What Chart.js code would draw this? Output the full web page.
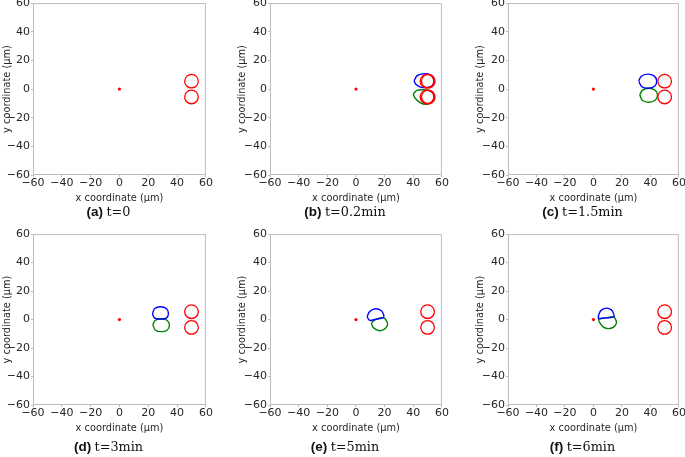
<!DOCTYPE html>
<html>
<head>
<meta charset="utf-8">
<script src="https://cdn.jsdelivr.net/npm/chart.js@4"></script>
<style>
  html, body { margin: 0; padding: 0; background: #fff; overflow: hidden; }
  body { width: 685px; height: 457px; position: relative; }
  canvas { position: absolute; }
  .cap { position: absolute; width: 200px; text-align: center; font-size: 13.5px; color: #111; white-space: nowrap; }
  .cap b { font-family: "Liberation Sans", Arial, sans-serif; font-weight: bold; }
  .cap span { font-family: "DejaVu Serif", "Liberation Serif", serif; font-size: 12.8px; }
</style>
</head>
<body>
<script>
// panel captions
const panelTags = ['(a)', '(b)', '(c)', '(d)', '(e)', '(f)'];
const panelTimes = ['t=0', 't=0.2min', 't=1.5min', 't=3min', 't=5min', 't=6min'];

// axis ticks (both axes)
const tickValues = [-60, -40, -20, 0, 20, 40, 60];

// chemoattractant source
const target = [[0, 0]];

// red cells (centres), per panel
const redA = [[50, 5.5], [50, -5.5]];
const redB = [[49.6, 5.5], [50.5, 5.5], [49.6, -5.5], [50.5, -5.5]];
const redC = [[50, 5.5], [50, -5.5]];
const redD = [[50, 5.5], [50, -5.5]];
const redE = [[50, 5.5], [50, -5.5]];
const redF = [[50, 5.5], [50, -5.5]];

// blue cell outline, per panel
const blueB = [[40.6, 5.8], [42.6, 9.2], [46.5, 10.6], [51, 10.4], [53.8, 8], [54.4, 5], [53, 2], [49, 1], [45, 1.4], [41.8, 3.4], [40.6, 5.8]];
const blueC = [[31.8, 5.5], [33.6, 8.9], [38, 10.4], [42.5, 9.2], [44.4, 5.8], [43, 2], [38.5, 0.6], [34, 1.6], [31.8, 5.5]];
const blueD = [[22.9, 4], [24.5, 7.8], [28.5, 9], [32.5, 7.8], [34, 4.5], [32.5, 1], [28.5, 0.4], [24.5, 1], [22.9, 4]];
const blueE = [[7.8, 2], [9.6, 5.6], [13.6, 7.6], [17.6, 6.4], [19.4, 3.2], [19, 1.4], [14, 0.3], [9.6, -0.6], [7.8, 2]];
const blueF = [[3.4, 0.6], [3.8, 3.8], [5.8, 6.8], [9.2, 8], [12.6, 6.8], [14.2, 4], [14.3, 1.8], [9, 1.2], [3.4, 0.6]];

// green cell outline, per panel
const greenB = [[40, -3.6], [42.5, -1], [47, -0.5], [51, -1], [54, -3], [54.5, -6.5], [52.5, -9.5], [49, -10.6], [45, -9.6], [41.5, -6.6], [40, -3.6]];
const greenC = [[32.5, -4], [34.3, -0.9], [38.8, 0.6], [43.3, -0.8], [45, -4.3], [43.3, -7.8], [38.8, -9.2], [34.3, -7.8], [32.5, -4]];
const greenD = [[23.1, -3.5], [25, -0.5], [29, 0.4], [33, -0.5], [34.7, -4], [33, -7.5], [29, -8.5], [25, -7.5], [23.1, -3.5]];
const greenE = [[10.8, -2.4], [11.8, -5.2], [14.5, -7.3], [17.5, -7.8], [20.8, -6], [22.1, -3], [20.5, 0.4], [18.8, 1.3], [14, 0.2], [10.8, -2.4]];
const greenF = [[3.4, 0.4], [4.5, -2.4], [7.3, -5.5], [10.4, -6.4], [13.9, -5.5], [16.2, -2.4], [15.3, 0.6], [13.9, 1.9], [9, 1.2], [3.4, 0.4]];

const redCells = [redA, redB, redC, redD, redE, redF];
const blueCells = [null, blueB, blueC, blueD, blueE, blueF];
const greenCells = [null, greenB, greenC, greenD, greenE, greenF];

// plot-area boxes on the page
const boxes = [
    { left: 33, right: 206, top: 3, bottom: 175, titleX: 7 },
    { left: 270, right: 442, top: 3, bottom: 175, titleX: 242 },
    { left: 508, right: 679, top: 3, bottom: 175, titleX: 480 },
    { left: 33, right: 206, top: 234, bottom: 405, titleX: 7 },
    { left: 270, right: 442, top: 234, bottom: 405, titleX: 242 },
    { left: 508, right: 679, top: 234, bottom: 405, titleX: 480 }
];
const capY = [204, 204, 204, 439, 439, 439];

const toPts = arr => arr.map(p => ({ x: p[0], y: p[1] }));
const fmt = v => (v < 0 ? '\u2212' + Math.abs(v) : String(v));

// draws the full box around the plot area (matplotlib spines)
const framePlugin = {
    id: 'frame',
    beforeDatasetsDraw(chart) {
        const { ctx, chartArea: a } = chart;
        ctx.save();
        ctx.strokeStyle = '#bdbdbd';
        ctx.lineWidth = 1;
        ctx.strokeRect(a.left + 0.5, a.top + 0.5, a.right - a.left - 1, a.bottom - a.top - 1);
        ctx.restore();
    }
};

const AXIS_W = 40, X_H = 30, PAD_T = 8, PAD_R = 8;
const tickFont = { family: 'DejaVu Sans', size: 11 };
const titleFont = { family: 'DejaVu Sans', size: 9.8 };

boxes.forEach((b, i) => {
    const canvas = document.createElement('canvas');
    const w = AXIS_W + (b.right - b.left) + PAD_R;
    const h = PAD_T + (b.bottom - b.top) + X_H;
    canvas.width = w;
    canvas.height = h;
    canvas.style.left = (b.left - AXIS_W) + 'px';
    canvas.style.top = (b.top - PAD_T) + 'px';
    canvas.style.width = w + 'px';
    canvas.style.height = h + 'px';
    document.body.appendChild(canvas);

    const datasets = [
        {
            label: 'red',
            data: toPts(redCells[i]),
            pointStyle: 'circle',
            pointRadius: 6.8,
            backgroundColor: 'rgba(0,0,0,0)',
            borderColor: '#ff0000',
            borderWidth: 1.3,
            showLine: false
        }
    ];
    if (blueCells[i]) {
        datasets.push({
            label: 'blue',
            data: toPts(blueCells[i]),
            showLine: true, pointRadius: 0, borderColor: '#0000ff', borderWidth: 1.4, tension: 0.35, fill: false
        });
        datasets.push({
            label: 'green',
            data: toPts(greenCells[i]),
            showLine: true, pointRadius: 0, borderColor: '#008000', borderWidth: 1.4, tension: 0.35, fill: false
        });
    }
    datasets.push({
        label: 'target',
        data: toPts(target),
        pointRadius: 1.6, backgroundColor: '#ff0000', borderWidth: 0, showLine: false
    });

    const titleX = b.titleX - (b.left - AXIS_W);

    new Chart(canvas.getContext('2d'), {
        type: 'scatter',
        data: { datasets },
        options: {
            responsive: false,
            animation: false,
            devicePixelRatio: 1,
            layout: { padding: { top: PAD_T, right: PAD_R, left: 0, bottom: 0 } },
            plugins: { legend: { display: false }, tooltip: { enabled: false } },
            scales: {
                x: {
                    type: 'linear', min: -60, max: 60,
                    afterBuildTicks: s => { s.ticks = tickValues.map(v => ({ value: v })); },
                    afterFit: s => { s.height = X_H; },
                    border: { display: false },
                    grid: { display: true, drawOnChartArea: false, drawTicks: true, tickLength: 2, color: '#bdbdbd' },
                    ticks: { font: tickFont, color: '#262626', padding: 0, maxRotation: 0, callback: fmt },
                    title: { display: true, text: 'x coordinate (\u03bcm)', font: titleFont, color: '#262626', padding: { top: 0, bottom: 1 } }
                },
                y: {
                    type: 'linear', min: -60, max: 60,
                    afterBuildTicks: s => { s.ticks = tickValues.map(v => ({ value: v })); },
                    afterFit: s => { s.width = AXIS_W; },
                    border: { display: false },
                    grid: { display: true, drawOnChartArea: false, drawTicks: true, tickLength: 2, color: '#bdbdbd' },
                    ticks: { font: tickFont, color: '#262626', padding: 1, callback: fmt },
                    title: { display: true, text: 'y coordinate (\u03bcm)', font: titleFont, color: '#262626', padding: { top: titleX - 5.9, bottom: 0 } }
                }
            }
        },
        plugins: [framePlugin]
    });

    const cap = document.createElement('div');
    cap.className = 'cap';
    cap.style.left = ((b.left + b.right) / 2 - 11 - 100) + 'px';
    cap.style.top = capY[i] + 'px';
    cap.innerHTML = '<b>' + panelTags[i] + '</b>&nbsp;<span>' + panelTimes[i] + '</span>';
    document.body.appendChild(cap);
});
</script>
</body>
</html>
